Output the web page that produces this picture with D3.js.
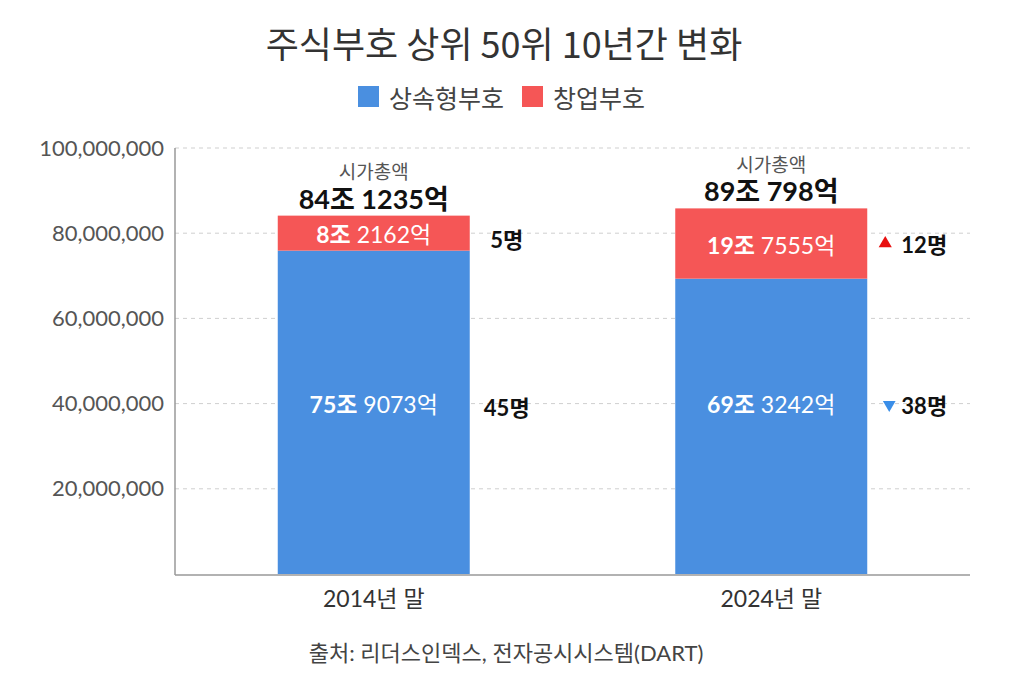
<!DOCTYPE html>
<html><head><meta charset="utf-8">
<script src="https://cdn.jsdelivr.net/npm/d3@7"></script>
<style>
body{margin:0;background:#fff;}
text{font-family:Lato,"Noto Sans CJK KR",sans-serif;}
</style></head>
<body>
<svg id="c" width="1012" height="673"></svg>
<script>
const categories = ["2014년 말", "2024년 말"];
const seriesNames = ["상속형부호", "창업부호"];
const inherited = [75907300, 69324200];
const founder = [8216200, 16500000];
const totalLabelsA = ["84조", "89조"];
const totalLabelsB = ["1235억", "798억"];
const inhLabelsA = ["75조", "69조"];
const inhLabelsB = ["9073억", "3242억"];
const fndLabelsA = ["8조", "19조"];
const fndLabelsB = ["2162억", "7555억"];
const inhCounts = ["45명", "38명"];
const fndCounts = ["5명", "12명"];
const countMarks = [null, {inh:"down", fnd:"up"}];
const yTicks = [20000000, 40000000, 60000000, 80000000, 100000000];

const colors = ["#4a8fe0", "#f55656"];
const svg = d3.select("#c");
const L = 175, R = 970, T = 148, B = 574;

const x = d3.scaleBand().domain(categories).range([L, R]).paddingInner(0.517).paddingOuter(0.2585);
const y = d3.scaleLinear().domain([0, 100000000]).range([B, T]);

// title
svg.append("text").attr("x", 504).attr("y", 42).attr("text-anchor", "middle").attr("dominant-baseline", "central")
  .style("font-family", "'Noto Sans CJK KR'").style("font-size", "36px").attr("fill", "#333")
  .text("주식부호 상위 50위 10년간 변화");

// legend
const lg = svg.append("g");
const legX = [358, 522];
seriesNames.forEach((n, i) => {
  lg.append("rect").attr("x", legX[i]).attr("y", 86).attr("width", 21).attr("height", 21).attr("fill", colors[i]);
  lg.append("text").attr("x", legX[i] + 31).attr("y", 97).attr("dominant-baseline", "central").style("font-family", "'Noto Sans CJK KR'")
    .style("font-size", "25px").attr("fill", "#444").text(n);
});

// grid
svg.append("g").selectAll("line").data(yTicks).join("line")
  .attr("x1", L).attr("x2", R).attr("y1", d => y(d)).attr("y2", d => y(d))
  .attr("stroke", "#cfcfcf").attr("stroke-dasharray", "4,4");

// y axis
const ya = svg.append("g").attr("transform", `translate(${L},0)`)
  .call(d3.axisLeft(y).tickValues(yTicks).tickSize(0).tickPadding(11).tickFormat(d3.format(",")));
ya.select(".domain").remove();
ya.selectAll("text").style("font-size", "22px").attr("fill", "#555").style("font-family", "Lato");
svg.append("line").attr("x1", L).attr("x2", L).attr("y1", T).attr("y2", B + 1).attr("stroke", "#999").attr("stroke-width", 1.5);

// bars
const g = svg.append("g");
categories.forEach((c, i) => {
  g.append("rect").attr("x", x(c)).attr("width", x.bandwidth())
    .attr("y", y(inherited[i])).attr("height", y(0) - y(inherited[i])).attr("fill", colors[0]);
  g.append("rect").attr("x", x(c)).attr("width", x.bandwidth())
    .attr("y", y(inherited[i] + founder[i])).attr("height", y(inherited[i]) - y(inherited[i] + founder[i])).attr("fill", colors[1]);
});

// x axis
const xa = svg.append("g").attr("transform", `translate(0,${B})`)
  .call(d3.axisBottom(x).tickSize(0).tickPadding(17));
xa.select(".domain").remove();
xa.selectAll("text").style("font-size", "23px").attr("fill", "#333").style("font-family", "Lato,'Noto Sans CJK KR'");
svg.append("line").attr("x1", L).attr("x2", R).attr("y1", B + 1).attr("y2", B + 1).attr("stroke", "#999").attr("stroke-width", 1.5);

function twoPart(parent, cx, cy, a, b, color, size) {
  const t = parent.append("text").attr("x", cx).attr("y", cy).attr("text-anchor", "middle")
    .attr("dominant-baseline", "central").attr("fill", color).style("font-size", size + "px");
  t.append("tspan").attr("font-weight", "bold").text(a);
  t.append("tspan").text(" " + b);
  return t;
}

categories.forEach((c, i) => {
  const cx = x(c) + x.bandwidth() / 2;
  const top = y(inherited[i] + founder[i]);
  svg.append("text").attr("x", cx).attr("y", top - 45).attr("text-anchor", "middle").attr("dominant-baseline", "central")
    .style("font-family", "'Noto Sans CJK KR'").style("font-size", "19px").attr("fill", "#555").text("시가총액");
  const tt = svg.append("text").attr("x", cx).attr("y", top - 18).attr("text-anchor", "middle").attr("dominant-baseline", "central")
    .attr("fill", "#111").attr("font-weight", "bold").style("font-size", "27px");
  tt.append("tspan").text(totalLabelsA[i]);
  tt.append("tspan").text(" " + totalLabelsB[i]);
  twoPart(svg, cx, (y(inherited[i]) + top) / 2 + 1, fndLabelsA[i], fndLabelsB[i], "#fff", 23);
  twoPart(svg, cx, y(40000000), inhLabelsA[i], inhLabelsB[i], "#fff", 23);
  const rx = x(c) + x.bandwidth() + 37;
  const m = countMarks[i];
  const fy = (y(inherited[i]) + top) / 2 + (m ? 1 : 6);
  const iy = y(40000000) + (m ? 2 : 4);
  if (!m) {
    svg.append("text").attr("x", rx).attr("y", fy).attr("text-anchor", "middle").attr("dominant-baseline", "central")
      .attr("font-weight", "bold").attr("fill", "#111").style("font-size", "22px").text(fndCounts[i]);
    svg.append("text").attr("x", rx).attr("y", iy).attr("text-anchor", "middle").attr("dominant-baseline", "central")
      .attr("font-weight", "bold").attr("fill", "#111").style("font-size", "22px").text(inhCounts[i]);
  } else {
    const tx = x(c) + x.bandwidth() + 57;
    svg.append("path").attr("d", d3.symbol(d3.symbolTriangle, 75)()).attr("transform", `translate(${tx - 39},${fy - 1})`).attr("fill", "#e81010");
    svg.append("text").attr("x", tx).attr("y", fy).attr("text-anchor", "middle").attr("dominant-baseline", "central")
      .attr("font-weight", "bold").attr("fill", "#111").style("font-size", "22px").text(fndCounts[i]);
    svg.append("path").attr("d", d3.symbol(d3.symbolTriangle, 70)()).attr("transform", `translate(${tx - 35},${iy - 1}) rotate(180)`).attr("fill", "#3a8ee8");
    svg.append("text").attr("x", tx).attr("y", iy).attr("text-anchor", "middle").attr("dominant-baseline", "central")
      .attr("font-weight", "bold").attr("fill", "#111").style("font-size", "22px").text(inhCounts[i]);
  }
});

// source
svg.append("text").attr("x", 506).attr("y", 652).attr("text-anchor", "middle").attr("dominant-baseline", "central")
  .style("font-family", "Lato,'Noto Sans CJK KR'").style("font-size", "22px").attr("fill", "#444")
  .text("출처: 리더스인덱스, 전자공시시스템(DART)");
</script>
</body></html>
